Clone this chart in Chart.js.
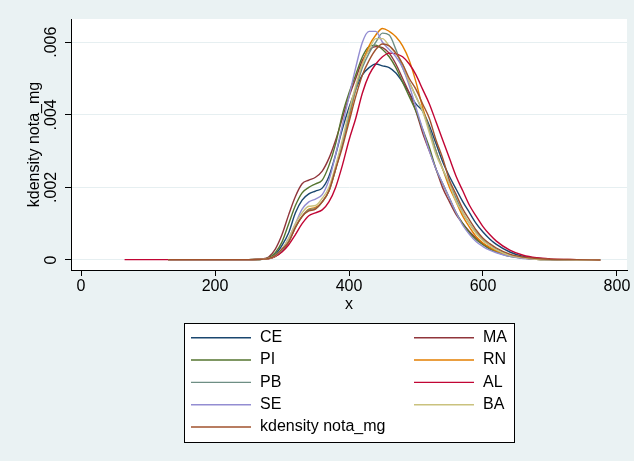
<!DOCTYPE html>
<html lang="pt">
<head>
<meta charset="UTF-8">
<title>kdensity nota_mg</title>
<script src="https://cdn.jsdelivr.net/npm/chart.js"></script>
<style>
  body { margin: 0; background: #eaf2f3; }
  canvas { display: block; }
</style>
</head>
<body>
<canvas id="chart" width="634" height="461"></canvas>
<script>
// pontos de avaliação das densidades (nota)
const xGrid = [65, 130, 200, 250, 270, 280, 290, 300, 310, 320, 330, 340, 350, 360, 370, 380, 390, 400,
  410, 420, 430, 440, 450, 460, 470, 480, 490, 500, 510, 520, 530, 540, 550, 560, 570, 580, 590, 600,
  610, 620, 640, 660, 680, 700, 740, 775];

const densCE = [null, .00001, .00001, .00001, .00002, .00005, .00015, .0004, .00075, .0013, .00165, .00182, .0019, .00198, .0023, .0029, .0036, .0042,
  .0047, .0051, .0053, .0054, .00535, .0053, .00515, .0049, .0046, .0043, .0041, .0037, .0032, .0027, .0023, .00195, .0016, .0013, .001, .00077,
  .00058, .00043, .00022, .0001, .00005, .00002, null, null];
const densMA = [null, .00001, .00001, .00001, .00003, .00008, .0003, .0007, .00125, .00175, .0021, .0022, .00228, .00245, .0028, .0033, .0039, .0045,
  .005, .0055, .00578, .00588, .00585, .0057, .0054, .005, .0046, .0041, .0035, .003, .0025, .00198, .0016, .00125, .001, .00078, .0006, .00045,
  .00033, .00024, .00012, .00006, .00003, .00001, 0, 0];
const densPI = [null, .00001, .00001, .00001, .00002, .00006, .0002, .0005, .001, .0015, .00185, .002, .0021, .0022, .0026, .0032, .004, .0046,
  .0051, .0056, .00588, .00592, .0058, .0056, .0053, .0049, .0045, .0041, .0036, .0031, .0025, .0021, .0017, .0013, .001, .00075, .00056, .00042,
  .0003, .00022, .0001, .00005, .00002, .00001, 0, 0];
const densRN = [null, .00001, .00001, .00001, .00002, .00004, .0001, .00025, .0005, .0009, .0012, .0014, .00145, .0016, .0019, .0025, .0032, .0039,
  .0047, .0054, .0059, .0062, .00638, .0063, .00615, .0059, .0055, .0049, .0042, .0036, .003, .0025, .002, .0016, .0012, .0009, .00064, .00047,
  .00035, .00025, .00012, .00005, .00002, .00001, 0, 0];
const densPB = [null, .00001, .00001, .00001, .00002, .00004, .0001, .00025, .0005, .0009, .0012, .00138, .00142, .0016, .0019, .0025, .0032, .004,
  .0047, .0053, .0057, .006, .00625, .0062, .0058, .0053, .0049, .0045, .0041, .0036, .003, .0025, .0021, .0017, .0013, .001, .00075, .00055,
  .0004, .0003, .00014, .00006, .00002, .00001, 0, 0];
const densAL = [.00001, .00001, .00001, .00001, .00002, .00003, .0001, .00022, .00042, .0007, .001, .00122, .0013, .00138, .0016, .002, .0026, .0033,
  .0039, .0046, .0051, .0054, .0056, .0057, .00568, .0056, .0054, .0051, .0047, .0043, .0038, .0033, .0028, .0023, .0019, .0015, .0012, .00092,
  .0007, .00052, .00027, .00013, .00006, .00003, .00001, 0];
const densSE = [null, .00001, .00001, .00001, .00002, .00004, .00012, .0003, .0006, .001, .0014, .0016, .00168, .0018, .0022, .0029, .0037, .0045,
  .0053, .006, .0063, .0063, .006, .0058, .0056, .0053, .0048, .0042, .0036, .003, .0025, .0021, .0017, .0013, .00095, .0007, .0005, .00037,
  .00027, .0002, .0001, .00004, .00002, .00001, 0, 0];
const densBA = [null, .00001, .00001, .00001, .00002, .00004, .00012, .0003, .0006, .001, .0013, .00148, .0015, .0017, .002, .0026, .0033, .0041,
  .0048, .0054, .0058, .0061, .0061, .0059, .0057, .0054, .0049, .0045, .0041, .0035, .0029, .0025, .0021, .0016, .0013, .001, .00073, .00053,
  .0004, .00028, .00013, .00006, .00002, .00001, 0, 0];
const densTotal = [null, .00001, .00001, .00001, .00002, .00004, .00012, .0003, .0005, .0009, .0012, .00135, .0014, .0016, .0019, .0025, .0031, .0038,
  .0045, .0051, .0055, .0058, .00595, .0059, .0057, .0054, .005, .0047, .0043, .0039, .0033, .0028, .0022, .0018, .0014, .0011, .00082, .0006,
  .00045, .00033, .00016, .00008, .00004, .00002, .00001, 0];

const seriesNames = ['CE', 'MA', 'PI', 'RN', 'PB', 'AL', 'SE', 'BA', 'kdensity nota_mg'];
const seriesData = [densCE, densMA, densPI, densRN, densPB, densAL, densSE, densBA, densTotal];
// paleta s2color
const seriesColors = ['#1a476f', '#90353b', '#55752f', '#e37e00', '#6e8e84', '#c10534', '#938dd2', '#cac27e', '#a0522d'];

const xTicks = [0, 200, 400, 600, 800];
const yTicks = [0, 0.002, 0.004, 0.006];
const yTickLabels = ['0', '.002', '.004', '.006'];

const FONT = '"Liberation Sans", Arial, sans-serif';
Chart.defaults.font.family = FONT;
Chart.defaults.font.size = 16;
Chart.defaults.color = '#000';

// fundo, rótulos do eixo y na vertical e legenda em duas colunas
const stataLook = {
  id: 'stataLook',
  beforeDraw(chart) {
    const { ctx, chartArea: a } = chart;
    ctx.save();
    ctx.fillStyle = '#eaf2f3';
    ctx.fillRect(0, 0, chart.width, chart.height);
    ctx.fillStyle = '#ffffff';
    ctx.fillRect(a.left, a.top, a.right - a.left, a.bottom - a.top);
    ctx.restore();
  },
  afterDraw(chart) {
    const ctx = chart.ctx;
    const yScale = chart.scales.y;
    ctx.save();
    ctx.font = '16px ' + FONT;
    ctx.fillStyle = '#000';
    ctx.textAlign = 'center';
    ctx.textBaseline = 'middle';
    yTicks.forEach((v, i) => {
      ctx.save();
      ctx.translate(52, yScale.getPixelForValue(v));
      ctx.rotate(-Math.PI / 2);
      ctx.fillText(yTickLabels[i], 0, 0);
      ctx.restore();
    });

    const box = { x: 184, y: 323, w: 330, h: 119 };
    ctx.fillStyle = '#ffffff';
    ctx.fillRect(box.x, box.y, box.w, box.h);
    ctx.strokeStyle = '#000';
    ctx.lineWidth = 1;
    ctx.strokeRect(box.x + 0.5, box.y + 0.5, box.w, box.h);

    ctx.textAlign = 'left';
    chart.data.datasets.forEach((ds, i) => {
      const col = i % 2;
      const row = Math.floor(i / 2);
      const cy = 337.7 + row * 22.33;
      const x0 = col ? 414 : 191;
      ctx.strokeStyle = ds.borderColor;
      ctx.lineWidth = 1.4;
      ctx.beginPath();
      ctx.moveTo(x0, cy);
      ctx.lineTo(x0 + 60, cy);
      ctx.stroke();
      ctx.fillStyle = '#000';
      ctx.fillText(ds.label, x0 + 69, cy);
    });
    ctx.restore();
  }
};

const datasets = seriesNames.map((name, i) => ({
  label: name,
  data: xGrid.map((x, j) => ({ x: x, y: seriesData[i][j] })),
  borderColor: seriesColors[i],
  backgroundColor: seriesColors[i],
  borderWidth: 1.4,
  pointRadius: 0,
  fill: false,
  spanGaps: false,
  cubicInterpolationMode: 'monotone',
  order: seriesNames.length - i
}));

new Chart(document.getElementById('chart').getContext('2d'), {
  type: 'line',
  data: { datasets: datasets },
  options: {
    responsive: false,
    animation: false,
    devicePixelRatio: 1,
    layout: { padding: { left: 0, top: 19, right: 7, bottom: 146 } },
    plugins: {
      legend: { display: false },
      tooltip: { enabled: false }
    },
    scales: {
      x: {
        type: 'linear',
        min: -15,
        max: 815,
        afterBuildTicks: s => { s.ticks = xTicks.map(v => ({ value: v })); },
        afterFit: s => { s.height = 45; },
        ticks: { maxRotation: 0, autoSkip: false, padding: 1, font: { size: 16 } },
        grid: { drawOnChartArea: false, tickColor: '#000', tickLength: 6 },
        border: { color: '#000', width: 1 },
        title: { display: true, text: 'x', font: { size: 16 }, padding: { top: 0, bottom: 1 } }
      },
      y: {
        min: -0.000276,
        max: 0.00664,
        afterBuildTicks: s => { s.ticks = yTicks.map(v => ({ value: v })); },
        afterFit: s => { s.width = 71; },
        ticks: { display: false },
        grid: { color: '#e6eff1', tickColor: '#000', tickLength: 6 },
        border: { color: '#000', width: 1 },
        title: { display: true, text: 'kdensity nota_mg', font: { size: 16 }, padding: { top: 25, bottom: 0 } }
      }
    }
  },
  plugins: [stataLook]
});
</script>
</body>
</html>
